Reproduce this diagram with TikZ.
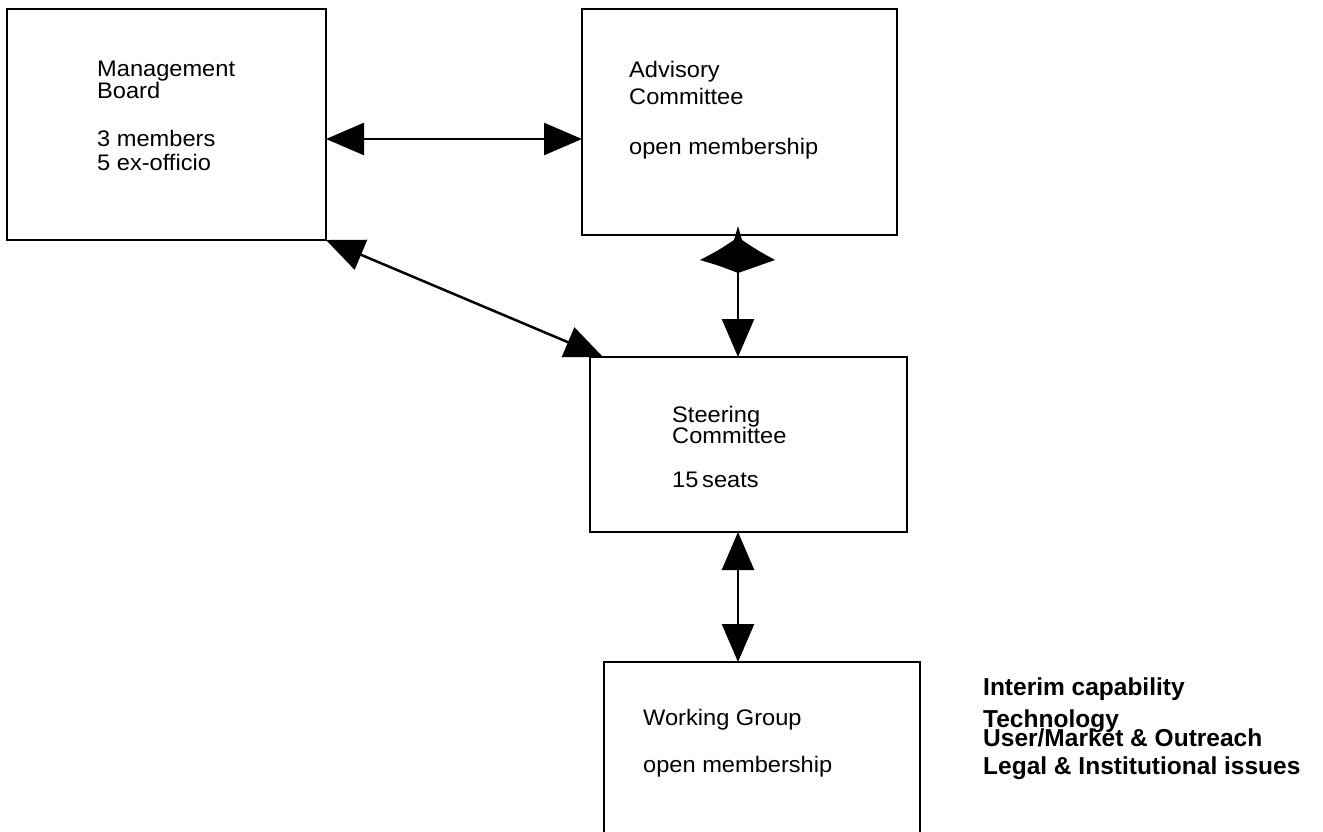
\documentclass[tikz,border=0pt]{standalone}
\usepackage{fontspec}
\setmainfont{Liberation Sans}
\newfontfamily\boxfont[FakeStretch=1.05]{Liberation Sans}
\usetikzlibrary{arrows.meta}
\begin{document}
\begin{tikzpicture}[x=1pt,y=-1pt,
  box/.style={draw, line width=2.3pt, anchor=north west, inner sep=0pt, outer sep=0pt},
  lbl/.style={anchor=base west, inner sep=0pt, font=\boxfont\fontsize{22.5}{26}\selectfont},
  side/.style={anchor=base west, inner sep=0pt, font=\bfseries\fontsize{24.5}{28}\selectfont},
  tip/.tip={Triangle[length=38pt,width=32pt]},
  link/.style={line width=2.5pt},
  both/.style={link, tip-tip},
  endonly/.style={link, -tip}]
\clip (0,0) rectangle (1323,832);
\fill[white] (0,0) rectangle (1323,832);

% boxes
\node[box, minimum width=319pt, minimum height=231pt] (mb) at (7,9) {};
\node[box, minimum width=315pt, minimum height=226pt] (ac) at (582,9) {};
\node[box, minimum width=317pt, minimum height=175pt] (sc) at (590,357) {};
\node[box, minimum width=316pt, minimum height=260pt] (wg) at (604,662) {};

% box texts
\node[lbl] (mb1) at (97,77) {Management};
\node[lbl] (mb2) at (97,99) {Board};
\node[lbl] (mb3) at (97,147) {3 members};
\node[lbl] (mb4) at (97,171) {5 ex-officio};

\node[lbl] (ac1) at (629,78) {Advisory};
\node[lbl] (ac2) at (629,105) {Committee};
\node[lbl] (ac3) at (629,154) {open membership};

\node[lbl] (sc1) at (672,422) {Steering};
\node[lbl] (sc2) at (672,443) {Committee};
\node[lbl] (sc3) at (672,487) {15\,seats};

\node[lbl] (wg1) at (643,725) {Working Group};
\node[lbl] (wg2) at (643,772) {open membership};

% task list beside the working group
\node[side] (t1) at (983,695) {Interim capability};
\node[side] (t2) at (983,727) {Technology};
\node[side] (t3) at (983,746) {User/Market \& Outreach};
\node[side] (t4) at (983,774) {Legal \& Institutional issues};

% connectors
\coordinate (hy) at (0,139);
\coordinate (vx) at (738,0);
\draw[both] (mb.east |- hy) -- (ac.west |- hy);
\draw[both] (mb.south east) -- ([xshift=13pt]sc.north west);
\draw[endonly] (ac.south -| vx) -- (sc.north -| vx);
\draw[both] (sc.south -| vx) -- (wg.north -| vx);

% four-pointed head where the advisory link leaves its box
\fill[shift={(ac.south -| vx)}]
  (0,-9) -- (-4,5) .. controls (-19,15) .. (-38,25)
  .. controls (-18,31) .. (0,38)
  .. controls (18,31) .. (37,25)
  .. controls (19,15) .. (4,5) -- cycle;
\end{tikzpicture}
\end{document}
